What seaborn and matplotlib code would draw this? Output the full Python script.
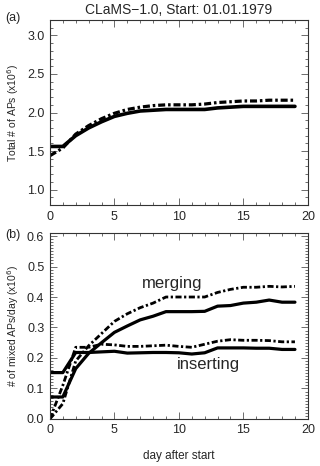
import numpy as np
import pandas as pd
import matplotlib
matplotlib.use('Agg')
import matplotlib.pyplot as plt
from matplotlib.ticker import MultipleLocator
import seaborn as sns

# data
days = list(range(20))

total_solid = [1.56, 1.56, 1.70, 1.80, 1.88, 1.95, 1.99, 2.02, 2.03, 2.04,
               2.04, 2.04, 2.04, 2.06, 2.07, 2.08, 2.08, 2.08, 2.08, 2.08]
total_dashdot = [1.44, 1.54, 1.72, 1.83, 1.92, 1.99, 2.04, 2.07, 2.09, 2.10,
                 2.10, 2.10, 2.11, 2.13, 2.14, 2.15, 2.15, 2.16, 2.16, 2.16]

merging_solid = [0.072, 0.072, 0.165, 0.215, 0.25, 0.284, 0.305, 0.325, 0.337, 0.352,
                 0.352, 0.352, 0.353, 0.370, 0.372, 0.380, 0.383, 0.390, 0.383, 0.383]
merging_dashdot = [0.0, 0.05, 0.19, 0.24, 0.28, 0.32, 0.345, 0.365, 0.38, 0.40,
                   0.40, 0.40, 0.40, 0.415, 0.425, 0.432, 0.432, 0.435, 0.433, 0.435]
inserting_solid = [0.152, 0.152, 0.218, 0.218, 0.220, 0.222, 0.216, 0.217, 0.218, 0.218,
                   0.217, 0.213, 0.217, 0.233, 0.233, 0.233, 0.232, 0.232, 0.228, 0.228]
inserting_dashdot = [0.0, 0.11, 0.235, 0.235, 0.245, 0.243, 0.238, 0.238, 0.240, 0.242,
                     0.238, 0.235, 0.245, 0.255, 0.260, 0.258, 0.258, 0.257, 0.253, 0.253]

sns.set_style('ticks')
plt.rcParams['font.family'] = ['Liberation Sans', 'DejaVu Sans']

DASHDOT = (0, (2.2, 0.9, 0.8, 0.9))

fig = plt.figure(figsize=(3.2, 4.66), dpi=100)
ax1 = fig.add_axes([0.156, 0.560, 0.806, 0.397])
ax2 = fig.add_axes([0.156, 0.101, 0.806, 0.399])


def style_axis(ax, ymaj, ymin):
    ax.set_xlim(0, 20)
    ax.xaxis.set_major_locator(MultipleLocator(5))
    ax.xaxis.set_minor_locator(MultipleLocator(1))
    ax.yaxis.set_major_locator(MultipleLocator(ymaj))
    ax.yaxis.set_minor_locator(MultipleLocator(ymin))
    ax.tick_params(which='both', direction='in', top=True, right=True,
                   labelsize=9, color='#555555', width=0.6)
    ax.tick_params(which='major', length=5, pad=4)
    ax.tick_params(which='minor', length=2.5)
    for sp in ax.spines.values():
        sp.set_linewidth(0.8)
        sp.set_color('#333333')


# panel (a)
sns.lineplot(x=days, y=total_solid, ax=ax1, color='black', lw=2.6)
sns.lineplot(x=days, y=total_dashdot, ax=ax1, color='black', lw=2.3, linestyle=DASHDOT)
ax1.set_ylim(0.8, 3.2)
style_axis(ax1, 0.5, 0.1)
ax1.yaxis.set_major_formatter(matplotlib.ticker.FormatStrFormatter('%.1f'))
ax1.set_ylabel('Total # of APs (x10$^6$)', fontsize=7.5)
ax1.set_title('CLaMS\u22121.0, Start: 01.01.1979', fontsize=10, pad=4)
fig.text(0.015, 0.955, '(a)', fontsize=9)

# panel (b)
sns.lineplot(x=days, y=merging_solid, ax=ax2, color='black', lw=2.3)
sns.lineplot(x=days, y=merging_dashdot, ax=ax2, color='black', lw=2.0, linestyle=DASHDOT)
sns.lineplot(x=days, y=inserting_solid, ax=ax2, color='black', lw=2.3)
sns.lineplot(x=days, y=inserting_dashdot, ax=ax2, color='black', lw=2.0, linestyle=DASHDOT)
ax2.set_ylim(0, 0.61)
style_axis(ax2, 0.1, 0.01)
ax2.tick_params(which='minor', length=2)
ax2.set_ylabel('# of mixed APs/day (x10$^6$)', fontsize=7.5)
ax2.set_xlabel('day after start', fontsize=8.5, labelpad=10)
ax2.text(9.45, 0.445, 'merging', fontsize=12, ha='center', va='center')
ax2.text(12.3, 0.178, 'inserting', fontsize=12, ha='center', va='center')
fig.text(0.015, 0.49, '(b)', fontsize=9)

fig.savefig('out.png', dpi=100)
